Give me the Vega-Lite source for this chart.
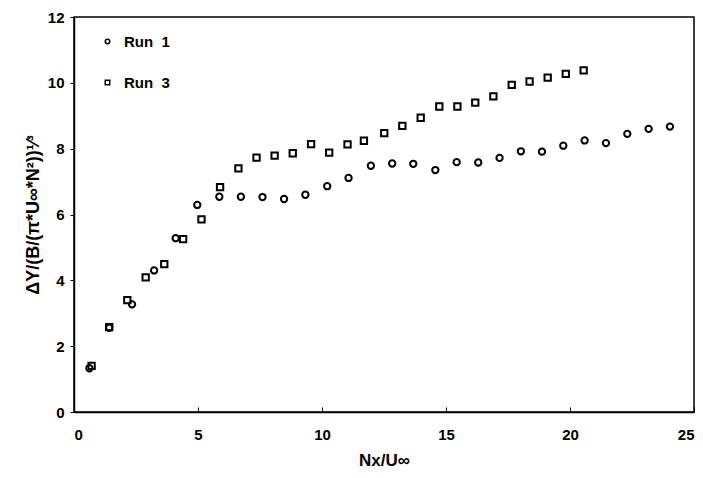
{
  "$schema": "https://vega.github.io/schema/vega-lite/v6.json",
  "autosize": {"type": "none"},
  "width": 620,
  "height": 395,
  "padding": {"left": 74, "top": 17, "right": 9, "bottom": 66},
  "background": "white",
  "config": {
    "view": {"stroke": "black", "strokeWidth": 1.5},
    "font": "Liberation Sans",
    "axis": {"grid": false, "domainColor": "black", "domainWidth": 1.5, "tickColor": "black", "labelColor": "black", "titleColor": "black", "labelFont": "Liberation Sans", "titleFont": "Liberation Sans", "labelFontWeight": "bold", "titleFontWeight": "bold", "labelFontSize": 15, "titleFontSize": 17}
  },
  "data": {"values": [
    {"run": "Run\u00a0\u00a01", "x": 0.62, "y": 1.33},
    {"run": "Run\u00a0\u00a01", "x": 1.42, "y": 2.56},
    {"run": "Run\u00a0\u00a01", "x": 2.34, "y": 3.27},
    {"run": "Run\u00a0\u00a01", "x": 3.23, "y": 4.30},
    {"run": "Run\u00a0\u00a01", "x": 4.10, "y": 5.28},
    {"run": "Run\u00a0\u00a01", "x": 4.97, "y": 6.29},
    {"run": "Run\u00a0\u00a01", "x": 5.86, "y": 6.54},
    {"run": "Run\u00a0\u00a01", "x": 6.73, "y": 6.54},
    {"run": "Run\u00a0\u00a01", "x": 7.60, "y": 6.53},
    {"run": "Run\u00a0\u00a01", "x": 8.47, "y": 6.47},
    {"run": "Run\u00a0\u00a01", "x": 9.33, "y": 6.60},
    {"run": "Run\u00a0\u00a01", "x": 10.21, "y": 6.86},
    {"run": "Run\u00a0\u00a01", "x": 11.07, "y": 7.11},
    {"run": "Run\u00a0\u00a01", "x": 11.97, "y": 7.48},
    {"run": "Run\u00a0\u00a01", "x": 12.83, "y": 7.55},
    {"run": "Run\u00a0\u00a01", "x": 13.68, "y": 7.54},
    {"run": "Run\u00a0\u00a01", "x": 14.57, "y": 7.35},
    {"run": "Run\u00a0\u00a01", "x": 15.43, "y": 7.59},
    {"run": "Run\u00a0\u00a01", "x": 16.30, "y": 7.58},
    {"run": "Run\u00a0\u00a01", "x": 17.16, "y": 7.72},
    {"run": "Run\u00a0\u00a01", "x": 18.02, "y": 7.92},
    {"run": "Run\u00a0\u00a01", "x": 18.87, "y": 7.91},
    {"run": "Run\u00a0\u00a01", "x": 19.73, "y": 8.09},
    {"run": "Run\u00a0\u00a01", "x": 20.59, "y": 8.25},
    {"run": "Run\u00a0\u00a01", "x": 21.45, "y": 8.17},
    {"run": "Run\u00a0\u00a01", "x": 22.31, "y": 8.45},
    {"run": "Run\u00a0\u00a01", "x": 23.17, "y": 8.60},
    {"run": "Run\u00a0\u00a01", "x": 24.03, "y": 8.67},
    {"run": "Run\u00a0\u00a03", "x": 0.71, "y": 1.40},
    {"run": "Run\u00a0\u00a03", "x": 1.42, "y": 2.58},
    {"run": "Run\u00a0\u00a03", "x": 2.15, "y": 3.40},
    {"run": "Run\u00a0\u00a03", "x": 2.89, "y": 4.09},
    {"run": "Run\u00a0\u00a03", "x": 3.64, "y": 4.49},
    {"run": "Run\u00a0\u00a03", "x": 4.40, "y": 5.25},
    {"run": "Run\u00a0\u00a03", "x": 5.14, "y": 5.85},
    {"run": "Run\u00a0\u00a03", "x": 5.89, "y": 6.83},
    {"run": "Run\u00a0\u00a03", "x": 6.63, "y": 7.40},
    {"run": "Run\u00a0\u00a03", "x": 7.36, "y": 7.73},
    {"run": "Run\u00a0\u00a03", "x": 8.09, "y": 7.79},
    {"run": "Run\u00a0\u00a03", "x": 8.82, "y": 7.86},
    {"run": "Run\u00a0\u00a03", "x": 9.56, "y": 8.14},
    {"run": "Run\u00a0\u00a03", "x": 10.29, "y": 7.88},
    {"run": "Run\u00a0\u00a03", "x": 11.03, "y": 8.13},
    {"run": "Run\u00a0\u00a03", "x": 11.69, "y": 8.24},
    {"run": "Run\u00a0\u00a03", "x": 12.51, "y": 8.47},
    {"run": "Run\u00a0\u00a03", "x": 13.24, "y": 8.69},
    {"run": "Run\u00a0\u00a03", "x": 13.98, "y": 8.94},
    {"run": "Run\u00a0\u00a03", "x": 14.73, "y": 9.28},
    {"run": "Run\u00a0\u00a03", "x": 15.46, "y": 9.28},
    {"run": "Run\u00a0\u00a03", "x": 16.18, "y": 9.40},
    {"run": "Run\u00a0\u00a03", "x": 16.91, "y": 9.59},
    {"run": "Run\u00a0\u00a03", "x": 17.65, "y": 9.94},
    {"run": "Run\u00a0\u00a03", "x": 18.37, "y": 10.04},
    {"run": "Run\u00a0\u00a03", "x": 19.10, "y": 10.16},
    {"run": "Run\u00a0\u00a03", "x": 19.83, "y": 10.27},
    {"run": "Run\u00a0\u00a03", "x": 20.55, "y": 10.38}
  ]},
  "mark": {"type": "point", "filled": false, "strokeWidth": 2, "color": "black", "opacity": 1},
  "encoding": {
    "x": {"field": "x", "type": "quantitative", "scale": {"domain": [0, 25], "nice": false, "zero": false},
      "axis": {"values": [0, 5, 10, 15, 20, 25], "title": "Nx/U∞", "tickSize": -5, "labelPadding": 20, "titlePadding": 10, "labelFontSize": 15, "titleFontSize": 17}},
    "y": {"field": "y", "type": "quantitative", "scale": {"domain": [0, 12], "nice": false},
      "axis": {"values": [0, 2, 4, 6, 8, 10, 12], "title": "ΔY/(B/(π*U∞*N²))¹⁄³", "tickSize": 4, "labelPadding": 6, "titlePadding": 5, "labelFontSize": 15, "titleFontSize": 18}},
    "shape": {"field": "run", "type": "nominal",
      "scale": {"domain": ["Run\u00a0\u00a01", "Run\u00a0\u00a03"], "range": ["circle", "square"]},
      "legend": {"title": null, "orient": "none", "legendX": 26, "legendY": 17, "rowPadding": 25, "symbolSize": 20, "symbolStrokeWidth": 1.5, "symbolStrokeColor": "black", "symbolFillColor": "transparent", "labelFontSize": 15, "labelFontWeight": "bold", "labelColor": "black", "labelOffset": 9, "padding": 0}},
    "size": {"value": 40}
  }
}
